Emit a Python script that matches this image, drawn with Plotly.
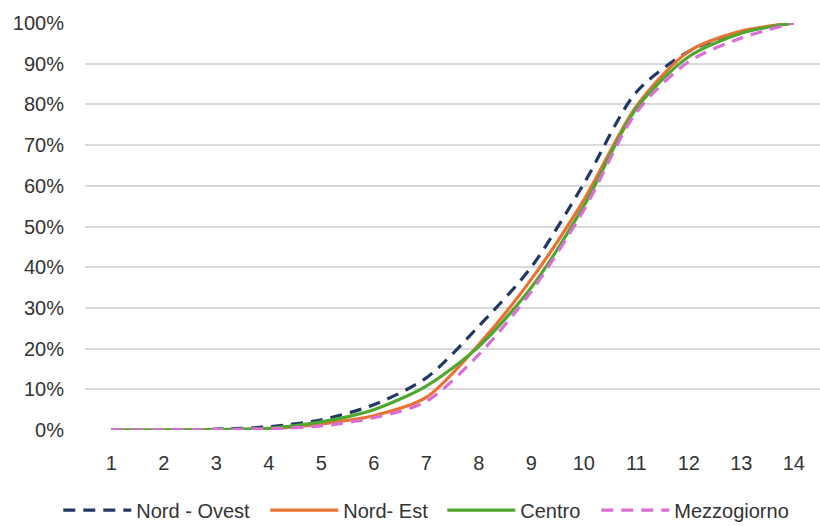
import plotly.graph_objects as go

x_vals = list(range(1, 15))
nord_ovest = [0, 0, 0.002, 0.008, 0.025, 0.062, 0.128, 0.255, 0.40, 0.605, 0.83, 0.93, 0.978, 1.0]
nord_est = [0, 0, 0.001, 0.003, 0.015, 0.035, 0.08, 0.21, 0.37, 0.565, 0.795, 0.93, 0.98, 1.0]
centro = [0, 0, 0.001, 0.004, 0.02, 0.05, 0.108, 0.205, 0.35, 0.55, 0.79, 0.917, 0.975, 1.0]
mezzogiorno = [0, 0, 0.001, 0.003, 0.01, 0.03, 0.07, 0.185, 0.34, 0.54, 0.78, 0.905, 0.963, 1.0]

series = [
    ("Nord - Ovest", nord_ovest, "#1F3864", "12px,8px", 124),
    ("Nord- Est", nord_est, "#E97132", "solid", 94),
    ("Centro", centro, "#4EA72E", "solid", 71),
    ("Mezzogiorno", mezzogiorno, "#D96FD6", "12px,8px", 116),
]

fig = go.Figure()
for name, vals, color, dash, lw in series:
    fig.add_trace(go.Scatter(
        x=x_vals, y=vals, name=name, mode="lines", legendwidth=lw,
        line=dict(color=color, width=3.2, dash=dash, shape="spline", smoothing=0.8),
    ))

font_family = "Liberation Sans, Arial, sans-serif"
fig.update_layout(
    width=820, height=526,
    margin=dict(l=85, r=0, t=23, b=96),
    paper_bgcolor="white", plot_bgcolor="white",
    font=dict(family=font_family, size=20, color="#333333"),
    showlegend=True,
    legend=dict(orientation="h", x=0.465, xanchor="center", y=0.03, yanchor="middle",
                yref="container", font=dict(size=20, color="#333333"),
                itemwidth=68, tracegroupgap=0),
    xaxis=dict(range=[0.5, 14.5], tickmode="array", tickvals=x_vals,
               ticktext=[str(v) for v in x_vals], showgrid=False, zeroline=False,
               showline=False, ticks="", ticklabelstandoff=19, automargin=False),
    yaxis=dict(range=[0, 1], tickformat=".0%", dtick=0.1, showgrid=True,
               gridcolor="#D9D9D9", gridwidth=1.5, zeroline=False, showline=False,
               ticks="", ticklabelstandoff=20, automargin=False),
)

fig.write_html("out.html", config={"displayModeBar": False},
               post_script="document.body.style.margin='0';")
